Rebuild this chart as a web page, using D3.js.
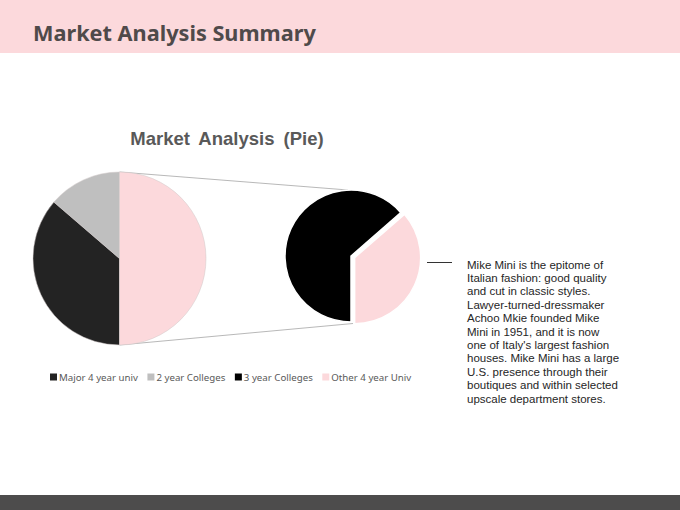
<!DOCTYPE html>
<html>
<head>
<meta charset="utf-8">
<script src="https://cdn.jsdelivr.net/npm/d3@7"></script>
<style>
  body { margin: 0; background: #fff; }
  svg { display: block; }
</style>
</head>
<body>
<svg id="slide"></svg>
<script>
const w = 680;
const h = 510;

const slideTitle = 'Market Analysis Summary';
const chartTitle = 'Market Analysis (Pie)';

const categories = ['Major 4 year univ', '2 year Colleges', '3 year Colleges', 'Other 4 year Univ'];
const shares = [36.3, 13.7, 31.8, 18.2];
const seriesColors = ['#232323', '#bfbfbf', '#000000', '#fcd9dc'];
const secondCount = 2; // last points go into the small pie
const otherColor = '#fcd9dc';

const noteLines = [
  'Mike Mini is the epitome of',
  'Italian fashion: good quality',
  'and cut in classic styles.',
  'Lawyer-turned-dressmaker',
  'Achoo Mkie founded Mike',
  'Mini in 1951, and it is now',
  "one of Italy's largest fashion",
  'houses. Mike Mini has a large',
  'U.S. presence through their',
  'boutiques and within selected',
  'upscale department stores.',
];

const color = d3.scaleOrdinal().domain(categories).range(seriesColors);

const svg = d3.select('#slide').attr('width', w).attr('height', h);

////////////////////////
/////// SLIDE //////////
////////////////////////

svg.append('rect').attr('width', w).attr('height', 53).attr('fill', '#fcd9dc');
svg.append('text')
  .attr('x', 33).attr('y', 41)
  .attr('font-family', 'Noto Sans, sans-serif')
  .attr('font-weight', 'bold')
  .attr('font-size', 21.7)
  .attr('fill', '#4f4a4a')
  .text(slideTitle);

svg.append('rect').attr('y', 495).attr('width', w).attr('height', 15).attr('fill', '#4d4c4c');

////////////////////////
/////// PIE OF PIE /////
////////////////////////

const firstCats = categories.slice(0, categories.length - secondCount);
const secondCats = categories.slice(categories.length - secondCount);
const otherTotal = d3.sum(shares.slice(categories.length - secondCount));

const mainData = firstCats.map((c, i) => ({ cat: c, value: shares[i], fill: color(c) }));
mainData.push({ cat: 'Other', value: otherTotal, fill: otherColor });

const subData = secondCats.map((c) => ({
  cat: c,
  value: shares[categories.indexOf(c)],
  fill: color(c),
}));

const main = { cx: 119.5, cy: 258.5, r: 86.5 };
const sub = { cx: 351, cy: 256, r: 66 };
const explode = 4;

const pie = d3.pie().sort(null).value((d) => d.value)
  .startAngle(Math.PI).endAngle(3 * Math.PI);

// connector lines
const conn = svg.append('g').attr('stroke', '#a6a6a6').attr('stroke-width', 0.8);
conn.append('line')
  .attr('x1', main.cx).attr('y1', main.cy - main.r)
  .attr('x2', sub.cx - 3).attr('y2', sub.cy - sub.r);
conn.append('line')
  .attr('x1', main.cx).attr('y1', main.cy + main.r)
  .attr('x2', sub.cx + 2).attr('y2', sub.cy + sub.r + 1.5);

const mainArc = d3.arc().innerRadius(0).outerRadius(main.r);
svg.append('g')
  .attr('transform', `translate(${main.cx},${main.cy})`)
  .selectAll('path')
  .data(pie(mainData))
  .enter()
  .append('path')
  .attr('d', mainArc)
  .attr('fill', (d) => d.data.fill)
  .attr('stroke', '#d0c8c8')
  .attr('stroke-width', 0.5);

const subArc = d3.arc().innerRadius(0).outerRadius(sub.r);
svg.append('g')
  .attr('transform', `translate(${sub.cx},${sub.cy})`)
  .selectAll('path')
  .data(pie(subData))
  .enter()
  .append('path')
  .attr('d', subArc)
  .attr('transform', (d, i) => {
    if (i === 0) return null;
    const a = (d.startAngle + d.endAngle) / 2;
    return `translate(${explode * Math.sin(a)},${-explode * Math.cos(a)})`;
  })
  .attr('fill', (d) => d.data.fill)
  .attr('stroke', '#fff')
  .attr('stroke-width', 1.5);

svg.append('text')
  .attr('x', 227).attr('y', 145)
  .attr('text-anchor', 'middle')
  .attr('font-family', 'Liberation Sans, Arial, sans-serif')
  .attr('font-weight', 'bold')
  .attr('font-size', 18.5)
  .attr('word-spacing', 4)
  .attr('fill', '#595959')
  .text(chartTitle);

////////////////////////
/////// LEGEND /////////
////////////////////////

const legend = svg.append('g').attr('transform', 'translate(50,377)');
let lx = 0;
categories.forEach((c) => {
  const item = legend.append('g').attr('transform', `translate(${lx},0)`);
  item.append('rect')
    .attr('x', 0).attr('y', -3.5)
    .attr('width', 7).attr('height', 7)
    .attr('fill', color(c));
  const t = item.append('text')
    .attr('x', 9).attr('y', 3.5)
    .attr('font-family', 'Noto Sans, sans-serif')
    .attr('font-size', 9.7)
    .attr('fill', '#595959')
    .text(c);
  lx += 9 + t.node().getComputedTextLength() + 9.5;
});

////////////////////////
/////// NOTE ///////////
////////////////////////

svg.append('line')
  .attr('x1', 427).attr('x2', 452)
  .attr('y1', 262.5).attr('y2', 262.5)
  .attr('stroke', '#333').attr('stroke-width', 1);

svg.append('text')
  .attr('font-family', 'Liberation Sans, Arial, sans-serif')
  .attr('font-size', 11.5)
  .attr('fill', '#262626')
  .selectAll('tspan')
  .data(noteLines)
  .enter()
  .append('tspan')
  .attr('x', 467)
  .attr('y', (d, i) => 268.5 + i * 13.4)
  .text((d) => d);
</script>
</body>
</html>
